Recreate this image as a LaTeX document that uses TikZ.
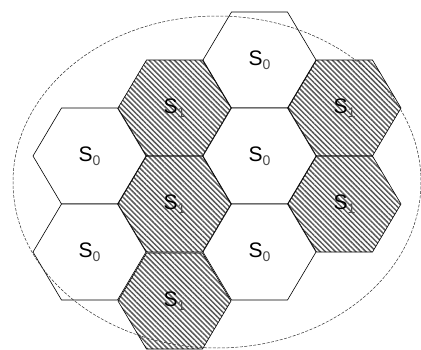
\documentclass[tikz,border=0pt]{standalone}
\usepackage{fontspec}
\setmainfont{Liberation Sans}
\usetikzlibrary{patterns.meta}

\newcommand{\cellname}[1]{S{\fontsize{14}{14}\selectfont\color{black!70}\raisebox{-3.5pt}{#1}}}

\begin{document}
\begin{tikzpicture}[x=1pt, y=-1pt,
  hexzero/.style={draw=black, line width=0.6pt, fill=white},
  hexone/.style={draw=black, line width=0.6pt,
                 pattern={Lines[angle=-45, distance=3.6pt, line width=1.5pt]},
                 pattern color=black!65},
  lbl/.style={inner sep=0pt, font=\fontsize{21}{21}\selectfont},
  border/.style={dashed, dash pattern=on 3pt off 1.5pt, line width=0.5pt, black!80}
]
\useasboundingbox (0,0) rectangle (421,349);

% cells: x / y / type / name
\foreach \x/\y/\k/\n in {259.5/60/0/a, 174.5/108/1/b, 344.5/108/1/c,
                         89.5/156/0/d, 259.5/156/0/e,
                         174.5/204/1/f, 344.5/204/1/g,
                         89.5/252/0/h, 259.5/252/0/i,
                         174.5/301/1/j}
{
  \ifnum\k=0
    \draw[hexzero] (\x,\y) ++(-56.5,0) -- ++(28.5,-48) -- ++(56,0) -- ++(28.5,48)
      -- ++(-28.5,48) -- ++(-56,0) -- cycle;
  \else
    \draw[hexone] (\x,\y) ++(-56.5,0) -- ++(28.5,-48) -- ++(56,0) -- ++(28.5,48)
      -- ++(-28.5,48) -- ++(-56,0) -- cycle;
  \fi
  \node[lbl] (cell\n) at (\x,\y) {\cellname{\k}};
}

\draw[border] (217,182) ellipse [x radius=204, y radius=166];
\end{tikzpicture}
\end{document}
